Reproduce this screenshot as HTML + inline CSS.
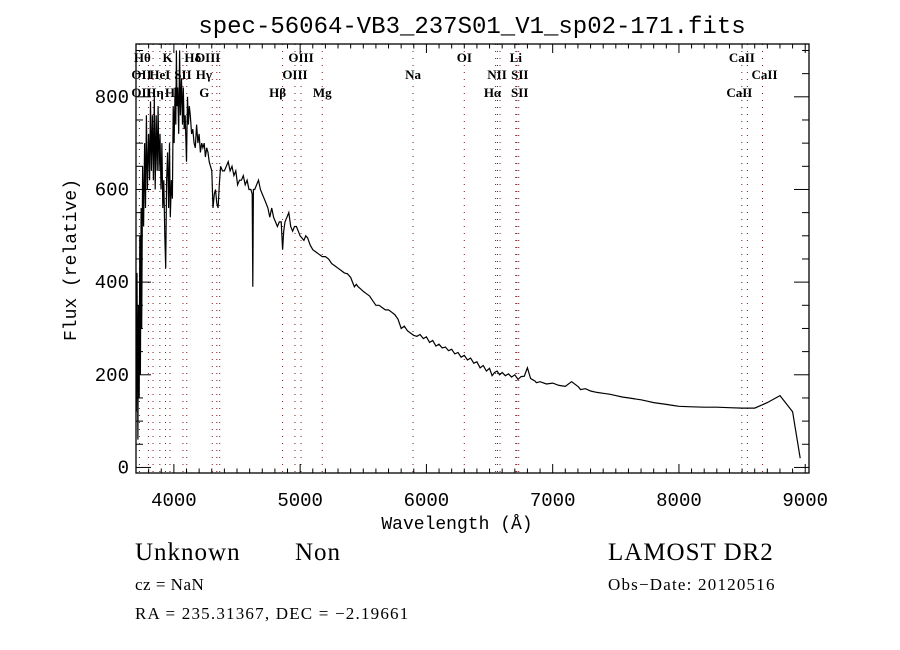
<!DOCTYPE html>
<html><head><meta charset="utf-8"><style>
html,body{margin:0;padding:0;background:#fff;}
svg{display:block;}
text{fill:#000;}
</style></head><body>
<svg id="chart" width="900" height="650" xmlns="http://www.w3.org/2000/svg">
<rect width="900" height="650" fill="#fff"/>
<text x="472" y="33" font-family="Liberation Mono, monospace" font-size="24" text-anchor="middle">spec-56064-VB3_237S01_V1_sp02-171.fits</text>
<text transform="translate(76,260) rotate(-90)" font-family="Liberation Mono, monospace" font-size="18" text-anchor="middle">Flux (relative)</text>
<text x="457" y="529" font-family="Liberation Mono, monospace" font-size="18" text-anchor="middle">Wavelength (Å)</text>
<g id="lines"></g>
<g id="axes"></g>
<path id="spec" fill="none" stroke="#000" stroke-width="1.2"/>
<text x="135" y="560" font-family="Liberation Serif, serif" font-size="25" letter-spacing="1">Unknown</text>
<text x="295" y="560" font-family="Liberation Serif, serif" font-size="25" letter-spacing="1">Non</text>
<text x="135" y="590" font-family="Liberation Serif, serif" font-size="17" letter-spacing="0.5">cz = NaN</text>
<text x="135" y="619" font-family="Liberation Serif, serif" font-size="17" letter-spacing="1.2">RA = 235.31367, DEC =  −2.19661</text>
<text x="608" y="560" font-family="Liberation Serif, serif" font-size="25" letter-spacing="1">LAMOST DR2</text>
<text x="608" y="590" font-family="Liberation Serif, serif" font-size="17" letter-spacing="1.2">Obs−Date: 20120516</text>
</svg>
<script>
const wavelengths=[3702,3708,3715,3720,3725,3730,3735,3740,3745,3752,3760,3768,3775,3782,3790,3800,3808,3815,3822,3830,3838,3845,3852,3860,3868,3875,3882,3890,3898,3905,3912,3920,3928,3935,3942,3950,3958,3965,3972,3980,3988,3995,4002,4010,4015,4020,4025,4030,4038,4045,4052,4060,4068,4075,4082,4090,4100,4108,4115,4122,4130,4140,4150,4160,4170,4180,4190,4200,4210,4220,4230,4240,4250,4260,4270,4280,4290,4300,4310,4320,4330,4340,4350,4360,4370,4385,4400,4415,4430,4445,4460,4475,4490,4505,4520,4535,4550,4565,4580,4595,4610,4620,4625,4630,4640,4655,4670,4685,4700,4715,4730,4745,4760,4775,4790,4805,4820,4835,4850,4861,4870,4880,4895,4910,4925,4940,4955,4970,4985,5000,5015,5030,5045,5060,5080,5100,5125,5150,5175,5200,5225,5250,5275,5300,5325,5350,5375,5400,5415,5430,5445,5460,5480,5500,5525,5550,5575,5600,5625,5650,5675,5700,5725,5750,5775,5800,5825,5850,5875,5900,5925,5950,5975,6000,6025,6050,6075,6100,6125,6150,6175,6200,6225,6250,6275,6300,6325,6350,6375,6400,6425,6450,6475,6500,6520,6540,6560,6580,6600,6625,6650,6675,6700,6725,6750,6775,6800,6825,6850,6862,6870,6900,6950,7000,7050,7100,7150,7200,7210,7220,7260,7300,7350,7400,7450,7500,7550,7600,7650,7700,7750,7800,7850,7900,7950,8000,8100,8200,8300,8400,8500,8600,8700,8800,8900,8960,8985,8995,9002,9010];
const fluxes=[120,420,60,350,150,500,200,560,300,650,520,700,560,760,600,720,620,790,640,760,620,800,600,760,640,780,640,720,600,700,560,620,500,430,620,680,560,700,540,620,580,780,700,820,740,900,780,820,720,900,760,840,740,820,730,760,660,800,740,780,760,720,730,700,690,740,700,720,680,700,690,700,670,690,680,660,650,640,560,590,600,570,560,610,650,640,640,650,660,640,650,630,640,610,620,620,630,610,620,600,600,590,390,600,600,610,620,600,590,580,570,560,540,560,540,530,520,530,530,470,510,530,540,550,520,510,520,520,510,500,495,490,500,495,480,470,465,460,455,455,450,440,435,430,425,420,418,410,400,390,395,390,385,380,375,370,360,350,350,345,340,340,335,330,320,300,305,295,290,285,283,287,278,282,270,274,262,266,258,260,252,255,245,248,238,242,232,236,225,228,215,220,208,214,198,205,208,200,205,198,202,195,200,190,196,197,215,192,188,186,183,185,180,182,177,175,185,175,172,168,170,165,162,160,158,155,152,150,148,146,143,140,138,136,134,132,131,130,130,129,128,128,140,155,120,20];
const lineWaves=[3727,3798,3835,3889,3934,3969,4072,4102,4304,4340,4363,4861,4959,5007,5175,5894,6300,6548,6563,6583,6708,6716,6731,8498,8542,8662];
const lineLabels=[
 {t:'OII',w:3727,r:1,a:'start',dx:-8},{t:'OII',w:3727,r:2,a:'start',dx:-8},
 {t:'Hθ',w:3798,r:0,a:'middle',dx:-6},{t:'Hη',w:3835,r:2,a:'middle',dx:2},
 {t:'HeI',w:3889,r:1,a:'middle',dx:0},{t:'K',w:3934,r:0,a:'middle',dx:2},
 {t:'H',w:3969,r:2,a:'middle',dx:0},{t:'SII',w:4072,r:1,a:'middle',dx:0},
 {t:'Hδ',w:4102,r:0,a:'middle',dx:6},{t:'OIII',w:4363,r:0,a:'middle',dx:-12},
 {t:'Hγ',w:4340,r:1,a:'middle',dx:-13},{t:'G',w:4304,r:2,a:'middle',dx:-8},
 {t:'Hβ',w:4861,r:2,a:'middle',dx:-5},{t:'OIII',w:5007,r:0,a:'middle',dx:0},
 {t:'OIII',w:4959,r:1,a:'middle',dx:0},{t:'Mg',w:5175,r:2,a:'middle',dx:0},
 {t:'Na',w:5894,r:1,a:'middle',dx:0},{t:'OI',w:6300,r:0,a:'middle',dx:0},
 {t:'NII',w:6583,r:1,a:'middle',dx:-3},{t:'Hα',w:6563,r:2,a:'middle',dx:-5},
 {t:'Li',w:6708,r:0,a:'middle',dx:0},{t:'SII',w:6716,r:1,a:'middle',dx:3},
 {t:'SII',w:6731,r:2,a:'middle',dx:1},{t:'CaII',w:8498,r:0,a:'middle',dx:0},
 {t:'CaII',w:8662,r:1,a:'middle',dx:2},{t:'CaII',w:8542,r:2,a:'middle',dx:-8}];
const xTicks=[4000,5000,6000,7000,8000,9000];
const yTicks=[0,200,400,600,800];

const L=136,R=809,T=44,B=473;
const xMin=3700,xMax=9030,yMin=-12,yMax=914;
const sx=w=>L+(w-xMin)/(xMax-xMin)*(R-L);
const sy=v=>B-(v-yMin)/(yMax-yMin)*(B-T);
const NS='http://www.w3.org/2000/svg';
function mk(tag,attrs,parent){const e=document.createElementNS(NS,tag);for(const k in attrs)e.setAttribute(k,attrs[k]);parent.appendChild(e);return e;}
const lines=document.getElementById('lines'),axes=document.getElementById('axes');
lineWaves.forEach(w=>{
 const l=mk('line',{x1:sx(w),x2:sx(w),y1:T,y2:B,stroke:'#7a1a1a','stroke-width':1,'stroke-dasharray':'1,6'},lines);
 
 
});
const rowY=[62,79,97];
lineLabels.forEach(o=>{
 const t=mk('text',{x:sx(o.w)+o.dx,y:rowY[o.r],'text-anchor':o.a,'font-family':'Liberation Serif, serif','font-size':13,'font-weight':'bold'},lines);
 t.textContent=o.t;
 
 
});
const frame=mk('rect',{x:L,y:T,width:R-L,height:B-T,fill:'none',stroke:'#000','stroke-width':1.3},axes);


for(let w=3800;w<=9000;w+=100){
 const maj=w%1000===0,len=maj?9:4.5;
 mk('line',{x1:sx(w),x2:sx(w),y1:B,y2:B-len,stroke:'#000'},axes);
 mk('line',{x1:sx(w),x2:sx(w),y1:T,y2:T+len,stroke:'#000'},axes);
}
for(let v=0;v<=900;v+=50){
 const maj=v%200===0,len=maj?15:7;
 mk('line',{x1:L,x2:L+len,y1:sy(v),y2:sy(v),stroke:'#000'},axes);
 mk('line',{x1:R,x2:R-len,y1:sy(v),y2:sy(v),stroke:'#000'},axes);
}
xTicks.forEach(w=>{
 const t=mk('text',{x:sx(w),y:506,'text-anchor':'middle','font-family':'Liberation Mono, monospace','font-size':19},axes);
 t.textContent=w;
 
 
});
yTicks.forEach(v=>{
 const t=mk('text',{x:129,y:sy(v)+6,'text-anchor':'end','font-family':'Liberation Mono, monospace','font-size':19},axes);
 t.textContent=v;
 
 
});
let d='';
wavelengths.forEach((w,i)=>{const y=Math.max(T,Math.min(B,sy(fluxes[i])));d+=(i?'L':'M')+sx(w).toFixed(1)+','+y.toFixed(1);});
document.getElementById('spec').setAttribute('d',d);
</script>
</body></html>
